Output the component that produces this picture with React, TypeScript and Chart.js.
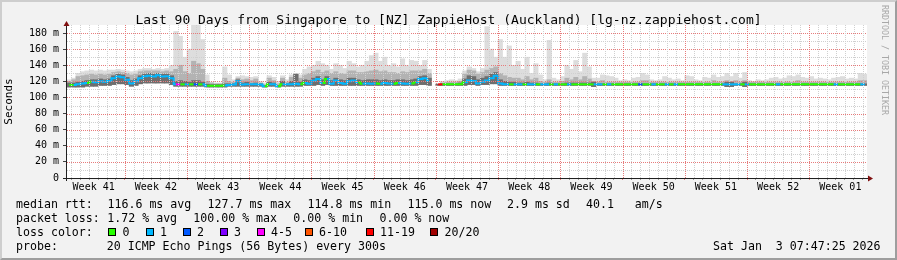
import React, { useEffect, useRef } from 'react';
import { Chart, registerables } from 'chart.js';

Chart.register(...registerables);

// ---------- data ----------
const titleText = 'Last 90 Days from Singapore to [NZ] ZappieHost (Auckland) [lg-nz.zappiehost.com]';
const weekLabels = ['Week 41', 'Week 42', 'Week 43', 'Week 44', 'Week 45', 'Week 46', 'Week 47', 'Week 48', 'Week 49', 'Week 50', 'Week 51', 'Week 52', 'Week 01'];
const totalDays = 90;
const binDays = 0.5; // one sample every 12 hours
const yMaxMs = 190;

// median round-trip time per bin (ms)
const medianMs: (number | null)[] = [
  115.5, 115.5, 116.5, 117.5, 118, 119.5, 119, 120, 119.5, 120.5,
  124, 126, 125, 122, 117.5, 120, 124, 126.5, 127, 126,
  127.5, 126, 126.5, 124, 116.3, 116.3, 116.3, 116.3, 116.3, 116.3,
  116.3, 114.6, 114.6, 114.6, 114.6, 115, 115.5, 116, 120, 116,
  116.5, 116.3, 116.3, 116, 114, 116.3, 116.3, 114, 116.3, 116.3,
  116.3, 117, 116.3, 118, 117, 121, 123, 118, 123, 117,
  121, 118, 117, 120, 121, 119, 117, 117.5, 117, 117.5,
  117, 118, 117.5, 117, 118, 117.5, 117, 117.5, 119, 123,
  124, 121, null, 116.3, 116.3, 116.3, 116.3, 116.3, 116.3, 119,
  121, 120.5, 117.5, 119.5, 121, 124, 127, 117.5, 116.5, 116.3,
  116.3, 116.3, 116.3, 116.3, 116.3, 116.3, 116.3, 116.3, 116.3, 116.3,
  116.3, 116.3, 116.3, 116.3, 116.3, 116.3, 116.3, 116.3, 116.3, 116.3,
  116.3, 116.3, 116.3, 116.3, 116.3, 116.3, 116.3, 116.3, 116.3, 116.3,
  116.3, 116.3, 116.3, 116.3, 116.3, 116.3, 116.3, 116.3, 116.3, 116.3,
  116.3, 116.3, 116.3, 116.3, 116.3, 116.3, 116.3, 116.3, 116.3, 116.3,
  116.3, 116.3, 116.3, 116.3, 116.3, 116.3, 116.3, 116.3, 116.3, 116.3,
  116.3, 116.3, 116.3, 116.3, 116.3, 116.3, 116.3, 116.3, 116.3, 116.3,
  116.3, 116.3, 116.3, 116.3, 116.3, 116.3, 116.3, 116.3, 116.3, 116.3,
];

// lost pings (of 20) per bin
const lossCount: (number | null)[] = [
  0, 1, 1, 1, 0, 1, 1, 1, 1, 1,
  1, 1, 1, 1, 1, 1, 1, 1, 1, 1,
  1, 1, 1, 1, 5, 0, 1, 0, 2, 0,
  1, 0, 0, 0, 0, 1, 1, 1, 1, 1,
  1, 1, 1, 1, 0, 1, 1, 0, 1, 1,
  1, 1, 0, 1, 1, 1, 1, 0, 1, 1,
  1, 1, 1, 1, 1, 0, 1, 1, 1, 0,
  1, 1, 1, 0, 1, 1, 1, 0, 1, 1,
  1, 1, null, 15, 0, 0, 0, 0, 0, 1,
  1, 1, 1, 1, 1, 1, 1, 1, 1, 0,
  1, 1, 0, 1, 1, 0, 1, 1, 0, 1,
  0, 0, 1, 0, 0, 0, 0, 0, 1, 1,
  0, 1, 0, 0, 0, 0, 0, 0, 2, 0,
  0, 1, 0, 0, 1, 0, 1, 0, 0, 0,
  0, 0, 0, 0, 0, 0, 0, 1, 1, 1,
  1, 0, 1, 0, 0, 0, 0, 0, 0, 1,
  0, 0, 0, 0, 0, 0, 0, 0, 0, 0,
  0, 0, 1, 0, 0, 0, 0, 0, 1, 0,
];

// smoke: lowest ping per bin (ms)
const smokeMin: (number | null)[] = [
  113, 113, 113, 113, 114, 114, 114, 115, 115, 115,
  116, 117, 117, 116, 114, 115, 117, 118, 118, 118,
  118, 118, 118, 116, 114, 114, 114, 114, 114, 114,
  114, 113, 113, 113, 113, 113, 114, 114, 114, 114,
  114, 114, 114, 114, 113, 114, 114, 113, 114, 114,
  114, 114, 114, 115, 115, 115, 116, 115, 116, 115,
  115, 115, 115, 115, 115, 115, 115, 115, 115, 115,
  115, 115, 115, 115, 115, 115, 115, 115, 115, 116,
  116, 115, null, 115, 115, 115, 115, 115, 115, 115,
  116, 116, 115, 116, 116, 117, 117, 115, 115, 115,
  115, 115, 115, 115, 115, 115, 115, 115, 115, 115,
  115, 115, 115, 115, 115, 115, 115, 115, 113.5, 115,
  115, 115, 115, 115, 115, 115, 115, 115, 115, 115,
  115, 115, 115, 115, 115, 115, 115, 115, 115, 115,
  115, 115, 115, 115, 115, 115, 115, 115, 113.5, 113.5,
  115, 115, 113.5, 115, 115, 115, 115, 115, 115, 115,
  115, 115, 115, 115, 115, 115, 115, 115, 115, 115,
  115, 115, 115, 115, 115, 115, 115, 115, 115, 115,
];

// smoke: top of the dense core (ms)
const smokeCore: (number | null)[] = [
  118, 118, 119, 120, 121, 122, 122, 123, 122, 123,
  127, 129, 128, 125, 121, 123, 127, 129, 130, 129,
  130, 129, 129, 127, 120, 121, 120, 119, 121, 121,
  119, 116.5, 116, 116, 116, 117, 117, 117, 122, 118,
  119, 117, 118, 117, 115, 119, 118, 115, 120, 117,
  120, 129, 119, 122, 121, 124, 126, 122, 126, 121,
  124, 122, 121, 124, 124, 122, 121, 122, 122, 122,
  121, 122, 121, 121, 122, 122, 121, 122, 123, 126,
  127, 124, null, 116.5, 117, 117, 117, 117, 118, 123,
  127, 126, 122, 124, 126, 129, 131, 122, 120, 119,
  119, 118, 118, 119, 118, 118, 117, 117, 118, 117,
  117, 117, 118, 118, 118, 118, 118, 118, 119, 117,
  117, 117, 117, 117, 117, 117, 117, 117, 117, 117,
  117, 117, 117, 117, 117, 117, 117, 117, 117, 117,
  117, 117, 117, 117, 117, 117, 117, 117, 119, 119,
  117, 117, 119, 117, 117, 117, 117, 117, 117, 117,
  117, 117, 117, 117, 117, 117, 117, 117, 117, 117,
  117, 117, 117, 117, 117, 117, 117, 117, 117, 117,
];

// smoke: top of the middle band (ms)
const smokeMid: (number | null)[] = [
  120, 122, 126, 127, 128, 129, 128, 129, 128, 129,
  131, 132, 131, 130, 128, 129, 132, 133, 133, 133,
  133, 132, 133, 132, 135, 140, 132, 130, 145, 142,
  135, 120, 118, 117, 117, 124, 120, 119, 124, 122,
  123, 121, 123, 118, 116, 124, 121, 117, 124, 119,
  125, 129, 124, 128, 130, 132, 134, 131, 133, 130,
  132, 130, 129, 133, 133, 131, 131, 132, 133, 134,
  132, 133, 131, 131, 130, 132, 131, 133, 133, 133,
  135, 130, null, 116.5, 118, 119, 119, 119, 120, 129,
  134, 133, 129, 131, 134, 136, 138, 130, 127, 125,
  124, 124, 122, 126, 122, 124, 120, 119, 122, 119,
  119, 120, 124, 122, 125, 122, 126, 123, 120, 119,
  121, 119, 119, 119, 119, 119, 119, 119, 119, 121,
  121, 119, 119, 119, 119, 119, 119, 119, 119, 119,
  119, 119, 119, 119, 119, 121, 119, 119, 121, 120,
  121, 119, 121, 119, 119, 119, 119, 119, 119, 119,
  119, 119, 119, 119, 121, 119, 119, 119, 119, 119,
  119, 119, 119, 119, 119, 119, 119, 119, 121, 121,
];

// smoke: highest ping per bin (ms)
const smokeMax: (number | null)[] = [
  122, 124, 130, 132, 133, 134, 133, 134, 133, 134,
  134, 135, 134, 133, 132, 133, 135, 136, 136, 135,
  136, 135, 136, 140, 182, 176, 150, 160, 195, 190,
  172, 128, 119, 118, 118, 138, 128, 122, 126, 127,
  126, 125, 126, 120, 118, 127, 125, 120, 127, 122,
  128, 130, 128, 135, 138, 140, 145, 142, 140, 135,
  142, 140, 136, 145, 142, 138, 140, 145, 152, 155,
  145, 150, 140, 142, 138, 148, 140, 146, 145, 140,
  146, 135, null, 117, 120, 121, 122, 121, 123, 133,
  138, 136, 132, 136, 188, 160, 150, 172, 150, 164,
  140, 145, 135, 150, 130, 142, 128, 122, 171, 124,
  122, 126, 140, 135, 146, 132, 155, 138, 124, 124,
  128, 127, 126, 124, 121, 122, 121, 124, 125, 130,
  128, 122, 121, 122, 126, 124, 122, 123, 121, 127,
  126, 122, 121, 125, 124, 128, 125, 126, 130, 126,
  130, 124, 131, 121, 120, 122, 121, 122, 124, 125,
  123, 124, 127, 126, 128, 125, 124, 126, 123, 124,
  123, 122, 124, 125, 126, 123, 124, 123, 130, 129,
];

const lossLegend = [
  { upTo: 0, label: '0', color: '#26ff00' },
  { upTo: 1, label: '1', color: '#00b8ff' },
  { upTo: 2, label: '2', color: '#0059ff' },
  { upTo: 3, label: '3', color: '#7e00ff' },
  { upTo: 5, label: '4-5', color: '#ff00ff' },
  { upTo: 10, label: '6-10', color: '#ff5500' },
  { upTo: 19, label: '11-19', color: '#ff0000' },
  { upTo: 20, label: '20/20', color: '#a00000' },
];

const statsRtt = ['median rtt:', '116.6 ms avg', '127.7 ms max', '114.8 ms min', '115.0 ms now', '2.9 ms sd', '40.1   am/s'];
const statsLoss = ['packet loss:', '1.72 % avg', '100.00 % max', '0.00 % min', '0.00 % now'];
const probeText = 'probe:       20 ICMP Echo Pings (56 Bytes) every 300s';
const dateText = 'Sat Jan  3 07:47:25 2026';

// ---------- helpers ----------
const MONO = "'DejaVu Sans Mono', monospace";

function lossColor(n: number | null | undefined): string {
  if (n == null) return 'rgba(0,0,0,0)';
  for (const b of lossLegend) if (n <= b.upTo) return b.color;
  return lossLegend[lossLegend.length - 1].color;
}

const MINOR_GRID = '#d0d0d0';
const MAJOR_GRID = '#e77b7b';

export default function App() {
  const ref = useRef<HTMLCanvasElement | null>(null);

  useEffect(() => {
    document.body.style.margin = '0';
    const canvas = ref.current;
    if (!canvas) return;

    const xs = medianMs.map((_, i) => (i + 0.5) * binDays);
    const band = (lo: (number | null)[], hi: (number | null)[]) =>
      xs.map((x, i) => ({ x, y: lo[i] == null || hi[i] == null ? null : [lo[i], hi[i]] }));

    const dayLines = Array.from({ length: totalDays }, (_, k) => k + 0.5);
    const weekCenters = weekLabels.map((_, k) => 3 + 7 * k);
    const isMajorDay = (v: number) => Math.round(v - 0.5) % 7 === 6;
    const xTickColors = dayLines.map((v) => (isMajorDay(v) ? MAJOR_GRID : '#9a9a9a'));
    const yValues = Array.from({ length: 19 }, (_, k) => k * 10);
    const yTickColors = yValues.map((v) => (v % 20 === 0 ? '#404040' : 'rgba(0,0,0,0)'));

    // dotted rrdtool-style grid drawn on top of the data, positioned through the scales
    const dottedGrid = {
      id: 'dottedGrid',
      afterDatasetsDraw(chart: any) {
        const { ctx, chartArea: a, scales } = chart;
        const top = Math.round(a.top);
        const bottom = Math.round(a.bottom);
        const left = Math.round(a.left);
        const right = Math.round(a.right);
        ctx.save();
        for (const v of yValues) {
          if (v === 0) continue;
          const y = Math.round(scales.y.getPixelForValue(v));
          ctx.fillStyle = v % 20 === 0 ? MAJOR_GRID : MINOR_GRID;
          for (let x = left; x < right; x += 2) ctx.fillRect(x, y, 1, 1);
        }
        for (const v of dayLines) {
          const x = Math.round(scales.x.getPixelForValue(v));
          ctx.fillStyle = isMajorDay(v) ? MAJOR_GRID : MINOR_GRID;
          for (let y = top; y < bottom; y += 2) ctx.fillRect(x, y, 1, 1);
        }
        ctx.restore();
      },
    };

    const frame = {
      id: 'rrdFrame',
      beforeDraw(chart: any) {
        const { ctx, chartArea: a } = chart;
        ctx.save();
        ctx.fillStyle = '#ffffff';
        ctx.fillRect(a.left, a.top, a.right - a.left, a.bottom - a.top);
        ctx.restore();
      },
      afterDraw(chart: any) {
        const { ctx, chartArea: a } = chart;
        ctx.save();
        ctx.strokeStyle = '#202020';
        ctx.lineWidth = 1;
        ctx.beginPath();
        ctx.moveTo(a.left - 0.5, a.bottom + 3);
        ctx.lineTo(a.left - 0.5, a.top - 2);
        ctx.moveTo(a.left - 4, a.bottom + 0.5);
        ctx.lineTo(a.right + 2, a.bottom + 0.5);
        ctx.stroke();
        ctx.fillStyle = '#801010';
        ctx.beginPath();
        ctx.moveTo(a.left - 0.5, a.top - 4);
        ctx.lineTo(a.left - 3.5, a.top + 1);
        ctx.lineTo(a.left + 2.5, a.top + 1);
        ctx.closePath();
        ctx.fill();
        ctx.beginPath();
        ctx.moveTo(a.right + 6, a.bottom + 0.5);
        ctx.lineTo(a.right + 1, a.bottom - 2.5);
        ctx.lineTo(a.right + 1, a.bottom + 3.5);
        ctx.closePath();
        ctx.fill();
        ctx.restore();
      },
    };

    const barCommon = { grouped: false, barPercentage: 1, categoryPercentage: 1, borderWidth: 0 };

    const chart = new Chart(canvas, {
      type: 'bar',
      data: {
        datasets: [
          {
            type: 'line',
            data: xs.map((x, i) => ({ x, y: medianMs[i] })),
            order: 0,
            stepped: 'middle',
            borderWidth: 2,
            borderColor: '#26ff00',
            pointRadius: 0,
            spanGaps: false,
            segment: { borderColor: (c: any) => lossColor(lossCount[c.p0DataIndex]) },
          } as any,
          { ...barCommon, data: band(smokeMin, smokeCore), backgroundColor: '#6e6e6e', order: 1 } as any,
          { ...barCommon, data: band(smokeMin, smokeMid), backgroundColor: '#b3b3b3', order: 2 } as any,
          { ...barCommon, data: band(smokeMin, smokeMax), backgroundColor: '#dddddd', order: 3 } as any,
        ],
      },
      options: {
        responsive: false,
        animation: false,
        devicePixelRatio: 1,
        layout: { padding: { top: 25, right: 30, left: 0, bottom: 0 } },
        plugins: { legend: { display: false }, tooltip: { enabled: false }, title: { display: false } },
        scales: {
          x: {
            type: 'linear',
            position: 'bottom',
            min: 0,
            max: totalDays,
            offset: false,
            afterBuildTicks: (s: any) => { s.ticks = dayLines.map((v) => ({ value: v })); },
            afterFit: (s: any) => { s.height = 0; },
            ticks: { display: false },
            grid: {
              offset: false,
              drawOnChartArea: false,
              drawTicks: true,
              tickLength: 2,
              tickBorderDash: [],
              tickColor: xTickColors,
            },
            border: { display: false },
          },
          xl: {
            type: 'linear',
            position: 'bottom',
            min: 0,
            max: totalDays,
            offset: false,
            afterBuildTicks: (s: any) => { s.ticks = weekCenters.map((v) => ({ value: v })); },
            afterFit: (s: any) => { s.height = 82; },
            grid: { display: false, drawTicks: false, offset: false },
            border: { display: false },
            ticks: {
              autoSkip: false,
              maxRotation: 0,
              padding: 3,
              color: '#000',
              font: { family: MONO, size: 10 },
              callback: (_v: any, i: number) => weekLabels[i],
            },
          },
          y: {
            type: 'linear',
            min: 0,
            max: yMaxMs,
            afterBuildTicks: (s: any) => { s.ticks = yValues.map((v) => ({ value: v })); },
            afterFit: (s: any) => { s.width = 67; },
            ticks: {
              autoSkip: false,
              padding: 4,
              color: '#000',
              font: { family: MONO, size: 10 },
              callback: (v: any) => (v % 20 === 0 ? (v === 0 ? '0' : `${v} m`) : ''),
            },
            grid: {
              drawOnChartArea: false,
              drawTicks: true,
              tickLength: 4,
              tickBorderDash: [],
              tickColor: yTickColors,
            },
            border: { display: false },
            title: {
              display: true,
              text: 'Seconds',
              color: '#000',
              font: { family: MONO, size: 11 },
              padding: { top: 3, bottom: 0 },
            },
          },
        },
      } as any,
      plugins: [frame, dottedGrid],
    });

    return () => chart.destroy();
  }, []);

  const legendFont = 11.6;
  const txt = (x: number, y: number, s: string, extra: any = {}) => (
    <div
      key={`${x}-${y}-${s}`}
      style={{
        position: 'absolute', left: x, top: y, whiteSpace: 'pre', fontFamily: MONO,
        fontSize: legendFont, lineHeight: '14px', color: '#000', ...extra,
      }}
    >
      {s}
    </div>
  );

  const rttX = [16, 107.5, 207.5, 307.5, 407.5, 507, 586];
  const lossX = [16, 107.3, 193.3, 293.3, 379.5];
  const boxX = [108, 145.5, 182.5, 219.5, 256.5, 304.5, 365.5, 430];

  return (
    <div style={{ position: 'relative', width: 897, height: 260, background: '#f2f2f2', overflow: 'hidden' }}>
      <div
        style={{
          position: 'absolute', left: 0, top: 0, width: 897, height: 260, boxSizing: 'border-box',
          borderTop: '2px solid #cecece', borderLeft: '2px solid #cecece',
          borderRight: '2px solid #9e9e9e', borderBottom: '2px solid #9e9e9e',
        }}
      />
      <canvas ref={ref} width={897} height={260} style={{ position: 'absolute', left: 0, top: 0, display: 'block' }} />
      <div
        style={{
          position: 'absolute', left: 0, top: 11.5, width: 897, textAlign: 'center', fontFamily: MONO,
          fontSize: 13, lineHeight: '16px', color: '#000', whiteSpace: 'pre',
        }}
      >
        {titleText}
      </div>
      <div
        style={{
          position: 'absolute', left: 880, top: 5, writingMode: 'vertical-rl', fontFamily: MONO,
          fontSize: 8.3, lineHeight: '10px', color: '#a8a8a8', whiteSpace: 'pre',
        }}
      >
        RRDTOOL / TOBI OETIKER
      </div>
      {statsRtt.map((s, i) => txt(rttX[i], 197, s))}
      {statsLoss.map((s, i) => txt(lossX[i], 211, s))}
      {txt(16, 225, 'loss color:')}
      {lossLegend.map((b, i) => (
        <React.Fragment key={b.label}>
          <div
            style={{
              position: 'absolute', left: boxX[i], top: 228, width: 8, height: 8, boxSizing: 'border-box',
              border: '1px solid #000', background: b.color,
            }}
          />
          {txt(boxX[i] + 14.5, 225, b.label)}
        </React.Fragment>
      ))}
      {txt(16, 239, probeText)}
      {txt(713, 239, dateText)}
    </div>
  );
}
